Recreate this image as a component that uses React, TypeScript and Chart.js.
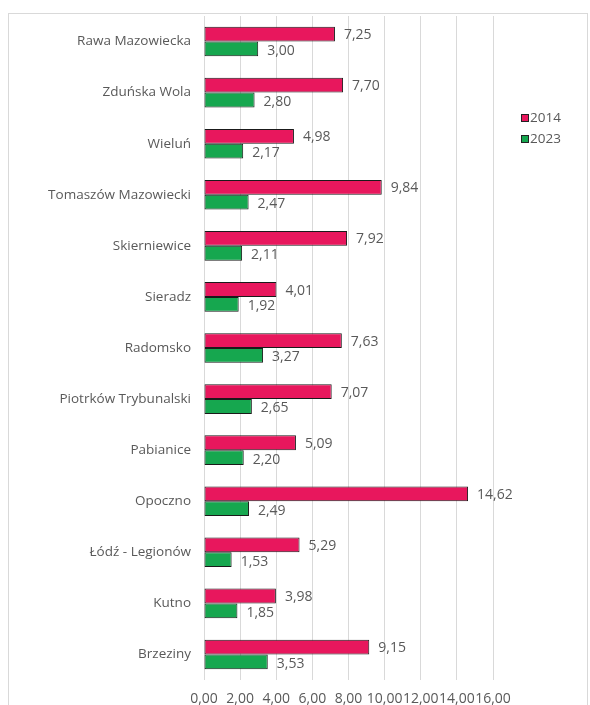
import React, { useEffect, useRef } from "react";
import { Chart, registerables } from "chart.js";

Chart.register(...registerables);

const categories = [
  "Rawa Mazowiecka",
  "Zduńska Wola",
  "Wieluń",
  "Tomaszów Mazowiecki",
  "Skierniewice",
  "Sieradz",
  "Radomsko",
  "Piotrków Trybunalski",
  "Pabianice",
  "Opoczno",
  "Łódź - Legionów",
  "Kutno",
  "Brzeziny",
];
const values2014 = [7.25, 7.7, 4.98, 9.84, 7.92, 4.01, 7.63, 7.07, 5.09, 14.62, 5.29, 3.98, 9.15];
const values2023 = [3.0, 2.8, 2.17, 2.47, 2.11, 1.92, 3.27, 2.65, 2.2, 2.49, 1.53, 1.85, 3.53];
const seriesLabels = ["2014", "2023"];
const seriesColors = ["#E8175D", "#16A74F"];

const FONT = "'Open Sans', 'DejaVu Sans', sans-serif";
const TEXT = "#595959";

const fmt = (v: number) => v.toFixed(2).replace(".", ",");

const framePlugin = {
  id: "frame",
  beforeDraw(chart: any) {
    const ctx = chart.ctx;
    ctx.save();
    ctx.fillStyle = "#ffffff";
    ctx.fillRect(0, 0, chart.width, chart.height);
    ctx.strokeStyle = "#d9d9d9";
    ctx.lineWidth = 1;
    ctx.strokeRect(8.5, 13.5, 579, 800);
    ctx.restore();
  },
};

const labelPlugin = {
  id: "valueLabels",
  afterDatasetsDraw(chart: any) {
    const ctx = chart.ctx;
    ctx.save();
    ctx.font = `14px ${FONT}`;
    ctx.fillStyle = TEXT;
    ctx.textAlign = "left";
    ctx.textBaseline = "middle";
    chart.data.datasets.forEach((ds: any, di: number) => {
      const meta = chart.getDatasetMeta(di);
      meta.data.forEach((bar: any, i: number) => {
        ctx.fillText(fmt(ds.data[i]), bar.x + 9, bar.y + 1 + di);
      });
    });
    ctx.restore();
  },
};

const legendPlugin = {
  id: "customLegend",
  afterDraw(chart: any) {
    const ctx = chart.ctx;
    ctx.save();
    ctx.font = `13.5px ${FONT}`;
    ctx.textBaseline = "middle";
    ctx.textAlign = "left";
    const ys = [118, 139];
    seriesLabels.forEach((lab, i) => {
      const y = ys[i];
      ctx.fillStyle = seriesColors[i];
      ctx.fillRect(521, y - 4, 8, 8);
      ctx.strokeStyle = "#222";
      ctx.lineWidth = 1;
      ctx.strokeRect(521.5, y - 3.5, 7, 7);
      ctx.fillStyle = TEXT;
      ctx.fillText(lab, 530, y);
    });
    ctx.restore();
  },
};

export default function App() {
  const ref = useRef<HTMLCanvasElement | null>(null);
  useEffect(() => {
    if (!ref.current) return;
    const chart = new Chart(ref.current, {
      type: "bar",
      data: {
        labels: categories,
        datasets: [
          {
            label: seriesLabels[0],
            data: values2014,
            backgroundColor: seriesColors[0],
            borderColor: "#1a1a1a",
            borderWidth: 1,
            borderSkipped: false,
            categoryPercentage: 0.58,
            barPercentage: 1,
          },
          {
            label: seriesLabels[1],
            data: values2023,
            backgroundColor: seriesColors[1],
            borderColor: "#1a1a1a",
            borderWidth: 1,
            borderSkipped: false,
            categoryPercentage: 0.58,
            barPercentage: 1,
          },
        ],
      },
      options: {
        indexAxis: "y",
        responsive: false,
        animation: false,
        devicePixelRatio: 1,
        layout: { padding: { top: 16, right: 97, bottom: 0, left: 0 } },
        plugins: {
          legend: { display: false },
          tooltip: { enabled: false },
          title: { display: false },
        },
        scales: {
          x: {
            min: 0,
            max: 16,
            ticks: {
              stepSize: 2,
              autoSkip: false,
              maxRotation: 0,
              color: TEXT,
              font: { family: FONT, size: 14 },
              padding: 11,
              callback: (v: any) => fmt(Number(v)),
            },
            grid: { color: "#d9d9d9", drawTicks: false },
            border: { display: false },
            afterFit: (s: any) => {
              s.height = 25;
            },
          },
          y: {
            ticks: {
              color: TEXT,
              font: { family: FONT, size: 13.5 },
              padding: 5,
              autoSkip: false,
            },
            grid: { display: false },
            border: { display: false },
            afterFit: (s: any) => {
              s.width = 204;
            },
          },
        },
      },
      plugins: [framePlugin, labelPlugin, legendPlugin],
    } as any);
    return () => chart.destroy();
  }, []);
  return (
    <div style={{ position: "absolute", left: 0, top: 0, width: 590, height: 705 }}>
      <canvas ref={ref} width={590} height={705} style={{ display: "block" }} />
    </div>
  );
}
